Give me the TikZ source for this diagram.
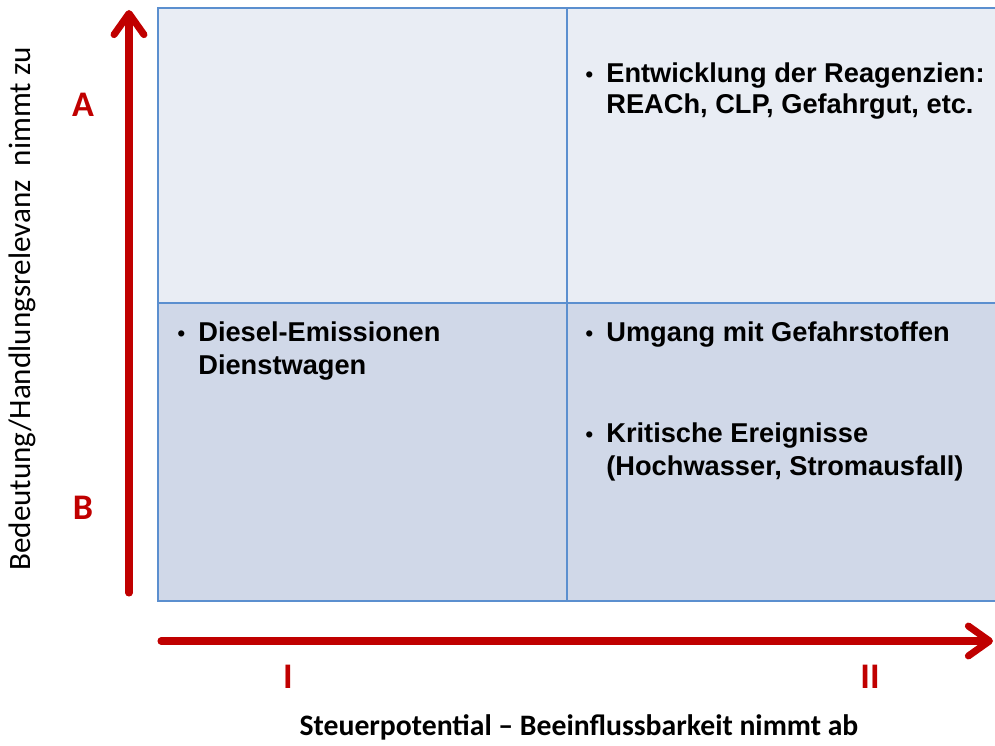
\documentclass[tikz,border=0pt]{standalone}
\usepackage{fontspec}
\setmainfont{Liberation Sans}
\newfontfamily\calib{Carlito}
\usetikzlibrary{arrows.meta}
\definecolor{qtop}{HTML}{E9EDF4}
\definecolor{qbot}{HTML}{D0D8E8}
\definecolor{qline}{HTML}{5B8FCF}
\definecolor{axred}{HTML}{C00000}
\begin{document}
\begin{tikzpicture}[x=0.02cm,y=-0.02cm,
  quad/.style={draw=qline,line width=1.7pt},
  axis/.style={draw=axred,line width=4pt,line cap=round,
    -{Straight Barb[length=12pt,width=17pt,line cap=round,line join=round]}},
  item/.style={anchor=base west,inner sep=0pt,font=\bfseries\fontsize{15.5}{18}\selectfont},
  dot/.style={anchor=base west,inner sep=0pt,font=\fontsize{13}{18}\selectfont},
  axmark/.style={text=axred,inner sep=0pt,font=\calib\bfseries\fontsize{20.5}{24}\selectfont},
  axlabel/.style={inner sep=0pt,font=\calib\fontsize{17.7}{20}\selectfont}]
\useasboundingbox (0,0) rectangle (995,746);
\clip (0,0) rectangle (995,746);
% quadrants
\fill[qtop] (158,8) rectangle (1010,303);
\fill[qbot] (158,303) rectangle (1010,601);
\draw[quad] (158,8) rectangle (1010,601);
\coordinate (midT) at (567,8);
\coordinate (midB) at (567,601);
\coordinate (midL) at (158,303);
\coordinate (midR) at (1010,303);
\draw[quad] (midT) -- (midB);
\draw[quad] (midL) -- (midR);
% axes
\coordinate (yS) at (129,593);
\coordinate (yE) at (129,10);
\coordinate (xS) at (161,641);
\coordinate (xE) at (993,641);
\draw[axis] (yS) -- (yE);
\draw[axis] (xS) -- (xE);
% axis marks
\node[axmark] (mA) at (83,105) {A};
\node[axmark] (mB) at (83,508) {B};
\node[axmark] (mI) at (288,677) {I};
\node[axmark] (mII) at (870,677) {II};
% axis titles
\node[axlabel,font=\calib\bfseries\fontsize{16.9}{20}\selectfont] (xl) at (579,727) {Steuerpotential – Beeinflussbarkeit nimmt ab};
\node[axlabel,rotate=90] (yl) at (22,309) {Bedeutung/Handlungsrelevanz\ \ nimmt zu};
% quadrant entries
\node[dot] (b1) at (585,83) {•};
\node[item] (t1a) at (606,83) {Entwicklung der Reagenzien:};
\node[item] (t1b) at (606,114) {REACh, CLP, Gefahrgut, etc.};
\node[dot] (b2) at (177,342) {•};
\node[item] (t2a) at (198,342) {Diesel-Emissionen};
\node[item] (t2b) at (198,375) {Dienstwagen};
\node[dot] (b3) at (585,342) {•};
\node[item] (t3a) at (606,342) {Umgang mit Gefahrstoffen};
\node[dot] (b4) at (585,443) {•};
\node[item] (t4a) at (606,443) {Kritische Ereignisse};
\node[item] (t4b) at (606,476) {(Hochwasser, Stromausfall)};
\end{tikzpicture}
\end{document}
